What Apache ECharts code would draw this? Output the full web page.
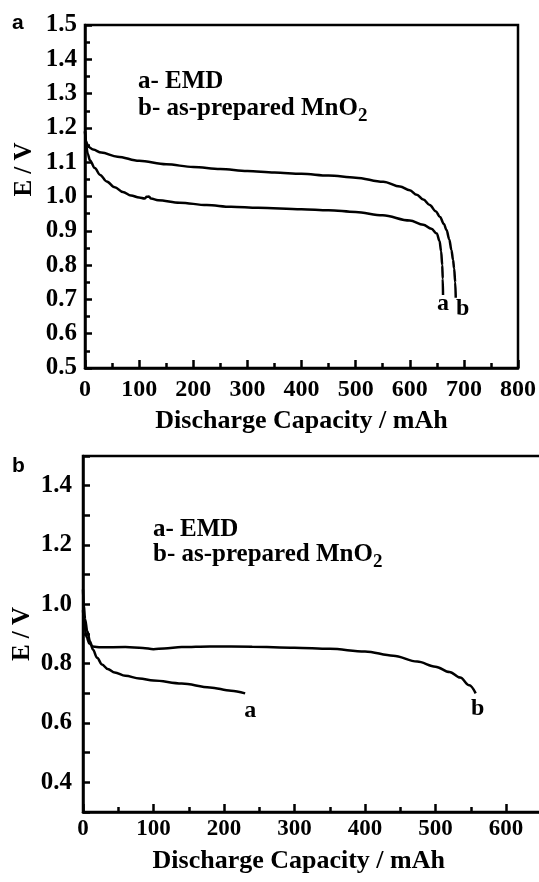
<!DOCTYPE html>
<html>
<head>
<meta charset="utf-8">
<script src="https://cdn.jsdelivr.net/npm/echarts@6/dist/echarts.min.js"></script>
<style>
  html, body { margin: 0; padding: 0; background: #fff; }
  #chart { width: 539px; height: 882px; }
</style>
</head>
<body>
<div id="chart"></div>
<script>
// Panel a: discharge curves [capacity mAh, E V]
const emdA = [[0,1.19],[2,1.15],[5,1.125],[9,1.106],[18,1.083],[28,1.063],[40,1.044],[55,1.027],[70,1.013],[85,1.003],[100,0.997],[110,0.994],[114,0.999],[118,1.0],[122,0.994],[135,0.989],[175,0.982],[225,0.975],[270,0.97],[320,0.967],[400,0.963],[450,0.96],[500,0.955],[550,0.945],[600,0.93],[625,0.918],[640,0.906],[650,0.892],[655,0.87],[658,0.84],[660,0.8],[661,0.76],[661.5,0.713]];
const mno2A = [[0,1.19],[2,1.16],[6,1.145],[15,1.137],[30,1.128],[60,1.116],[100,1.104],[150,1.094],[200,1.086],[250,1.08],[300,1.074],[350,1.07],[400,1.066],[450,1.061],[500,1.055],[551,1.043],[582,1.029],[600,1.018],[613,1.005],[625,0.991],[637,0.975],[648,0.957],[656,0.94],[663,0.92],[668,0.902],[673,0.875],[677,0.844],[680,0.815],[682,0.79],[684,0.75],[685,0.705]];

// Panel b: discharge curves [capacity mAh, E V]
const emdB = [[0,1.05],[1,1.0],[3,0.95],[6,0.91],[10,0.875],[14,0.848],[20,0.82],[27,0.797],[35,0.782],[45,0.77],[60,0.759],[80,0.75],[100,0.743],[140,0.733],[180,0.72],[210,0.709],[230,0.70]];
const mno2B = [[0,0.98],[2,0.93],[5,0.89],[9,0.868],[14,0.858],[25,0.855],[60,0.856],[85,0.853],[100,0.849],[115,0.851],[140,0.856],[180,0.858],[240,0.857],[300,0.854],[350,0.85],[400,0.841],[440,0.827],[474,0.807],[500,0.79],[520,0.772],[535,0.753],[548,0.727],[557,0.70]];

// Tick labels
const xLabelsA = ['0','100','200','300','400','500','600','700','800'];
const yLabelsA = ['0.5','0.6','0.7','0.8','0.9','1.0','1.1','1.2','1.3','1.4','1.5'];
const xLabelsB = ['0','100','200','300','400','500','600'];
const yLabelsB = ['0.4','0.6','0.8','1.0','1.2','1.4'];

const SERIF = 'Liberation Serif';
const INK = '#000';

function pickLabel(list, digits) {
  return function (v) {
    const s = digits ? v.toFixed(digits) : String(Math.round(v));
    return list.indexOf(s) >= 0 ? s : '';
  };
}

function textStyle(size) {
  return { color: INK, fontFamily: SERIF, fontWeight: 'bold', fontSize: size };
}

function xAxisCfg(gridIndex, max, labels, margin, gap, size, namePad) {
  return {
    type: 'value', gridIndex, min: 0, max, interval: 100,
    name: 'Discharge Capacity / mAh', nameLocation: 'middle', nameGap: gap,
    nameMoveOverlap: false,
    nameTextStyle: Object.assign({ padding: namePad }, textStyle(26)),
    axisLine: { show: true, onZero: false, lineStyle: { color: INK, width: 2.5 } },
    axisTick: { show: true, inside: true, length: 8, lineStyle: { color: INK, width: 2.5 } },
    minorTick: { show: true, splitNumber: 2, length: 5, lineStyle: { color: INK, width: 2.5 } },
    splitLine: { show: false }, minorSplitLine: { show: false },
    axisLabel: Object.assign({ margin, formatter: pickLabel(labels, 0) }, textStyle(size))
  };
}

function yAxisCfg(gridIndex, min, max, labels, margin, gap, minor, namePad) {
  return {
    type: 'value', gridIndex, min, max, interval: 0.1,
    name: 'E / V', nameLocation: 'middle', nameGap: gap,
    nameMoveOverlap: false,
    nameTextStyle: Object.assign({ padding: namePad }, textStyle(25)),
    axisLine: { show: true, onZero: false, lineStyle: { color: INK, width: 2.5 } },
    axisTick: { show: true, inside: true, length: 7, lineStyle: { color: INK, width: 2.5 } },
    minorTick: { show: minor, splitNumber: 2, length: 5, lineStyle: { color: INK, width: 2.5 } },
    splitLine: { show: false }, minorSplitLine: { show: false },
    axisLabel: Object.assign({ margin, formatter: pickLabel(labels, 1) }, textStyle(25))
  };
}

function curve(data, xi, tag, offset) {
  const last = data[data.length - 1];
  return {
    type: 'line', xAxisIndex: xi, yAxisIndex: xi, data,
    showSymbol: false, symbol: 'none', smooth: 0.35, smoothMonotone: 'x',
    lineStyle: { color: INK, width: 2.5 },
    silent: true, animation: false,
    markPoint: {
      symbol: 'circle', symbolSize: 0, silent: true, animation: false,
      label: Object.assign({ show: true, position: 'inside', formatter: tag, offset }, textStyle(24)),
      data: [{ coord: last }]
    }
  };
}

function legendText(left, yTop, yBottom) {
  return [
    { type: 'text', left, top: yTop, style: { text: 'a- EMD', fill: INK,
      font: 'bold 25px "Liberation Serif"' } },
    { type: 'text', left, top: yBottom, style: {
      text: '{m|b- as-prepared MnO}{s|2}', fill: INK,
      rich: {
        m: { fontFamily: SERIF, fontWeight: 'bold', fontSize: 25, lineHeight: 34, fill: INK },
        s: { fontFamily: SERIF, fontWeight: 'bold', fontSize: 19, lineHeight: 19, verticalAlign: 'bottom', fill: INK }
      } } }
  ];
}

const chart = echarts.init(document.getElementById('chart'), null, { renderer: 'canvas' });
chart.setOption({
  backgroundColor: '#fff',
  animation: false,
  grid: [
    { left: 85, top: 25, width: 433, height: 343, outerBoundsMode: 'none', containLabel: false,
      show: true, borderColor: INK, borderWidth: 2.5, backgroundColor: 'transparent' },
    { left: 83, top: 456, width: 493.5, height: 356, outerBoundsMode: 'none', containLabel: false,
      show: true, borderColor: INK, borderWidth: 2.5, backgroundColor: 'transparent' }
  ],
  xAxis: [
    xAxisCfg(0, 800, xLabelsA, 10, 40, 24, [0, 0, 0, 0]),
    xAxisCfg(1, 700, xLabelsB, 6, 36, 23, [0, 62, 0, 0])
  ],
  yAxis: [
    yAxisCfg(0, 0.5, 1.5, yLabelsA, 8, 48, true, [0, 0, 0, 54]),
    yAxisCfg(1, 0.3, 1.5, yLabelsB, 11, 48, false, [0, 0, 0, 0])
  ],
  series: [
    curve(emdA, 0, 'a', [0, 9]),
    curve(mno2A, 0, 'b', [7, 11]),
    curve(emdB, 1, 'a', [5, 17]),
    curve(mno2B, 1, 'b', [2, 15])
  ],
  graphic: [
    { type: 'text', left: 12, top: 13, style: { text: 'a', fill: INK, font: 'bold 21px "Liberation Sans"' } },
    { type: 'text', left: 12, top: 456, style: { text: 'b', fill: INK, font: 'bold 21px "Liberation Sans"' } }
  ].concat(legendText(138, 69, 96), legendText(153, 517, 542))
});
</script>
</body>
</html>
